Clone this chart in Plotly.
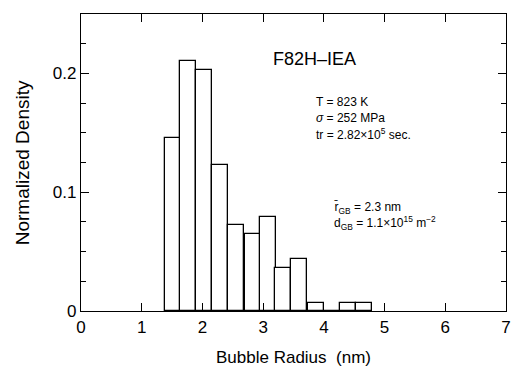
import plotly.graph_objects as go

# Data
bin_left = [1.377, 1.637, 1.902, 2.163, 2.418, 2.694, 2.948, 3.203, 3.463, 3.735, 4.005, 4.265, 4.525]
bin_width = 0.263
density = [0.1455, 0.2104, 0.203, 0.1233, 0.0722, 0.0651, 0.0795, 0.0362, 0.0438, 0.007, 0.0, 0.007, 0.007]
x_ticks = [0, 1, 2, 3, 4, 5, 6, 7]
y_ticks = [0, 0.1, 0.2]
y_ticklabels = ["0", "0.1", "0.2"]

centers = [b + bin_width / 2 for b in bin_left]

FONT = "Liberation Sans, Arial, sans-serif"

fig = go.Figure()
fig.add_trace(go.Bar(
    x=centers, y=density, width=[bin_width] * len(centers),
    marker=dict(color="white", line=dict(color="black", width=1.3)),
    showlegend=False,
))

fig.update_layout(
    width=513, height=374,
    margin=dict(l=81, r=2, t=14, b=63),
    paper_bgcolor="white", plot_bgcolor="white",
    font=dict(family=FONT, color="black", size=17),
    bargap=0,
)
fig.update_xaxes(
    range=[0, 7], tickvals=x_ticks, ticks="inside", ticklen=8, tickwidth=1,
    tickcolor="black", showline=True, linecolor="black", linewidth=1.2,
    mirror="ticks", showgrid=False, zeroline=False, ticklabeloverflow="allow",
    tickfont=dict(size=17, family=FONT),
)
fig.update_yaxes(
    range=[0, 0.25], tickvals=y_ticks, ticktext=y_ticklabels, ticks="inside",
    ticklen=8, tickwidth=1, tickcolor="black", showline=True, linecolor="black",
    linewidth=1.2, mirror="ticks", showgrid=False, zeroline=False,
    tickfont=dict(size=17, family=FONT),
    minor=dict(dtick=0.025, tick0=0, ticks="inside", ticklen=5, tickcolor="black", showgrid=False),
)

anns = [
    dict(text="Bubble Radius  (nm)", x=0.5, y=-0.158, size=17, xanchor="center", angle=0),
    dict(text="Normalized Density", x=-0.137, y=0.5, size=19, xanchor="center", angle=-90),
]
for a in anns:
    fig.add_annotation(text=a["text"], xref="paper", yref="paper", x=a["x"], y=a["y"],
                       xanchor=a["xanchor"], yanchor="middle", showarrow=False,
                       textangle=a["angle"], font=dict(size=a["size"], family=FONT))

labels = [
    ("F82H–IEA", 3.13, 0.2122, 18),
    ("T = 823 K", 3.84, 0.1757, 12),
    ("<i>σ</i> = 252 MPa", 3.84, 0.1627, 12),
    ("tr = 2.82×10<sup>5</sup> sec.", 3.84, 0.149, 12),
    ("r̄<sub>GB</sub> = 2.3 nm", 4.13, 0.0867, 12),
    ("d<sub>GB</sub> = 1.1×10<sup>15</sup> m<sup>−2</sup>", 4.13, 0.0741, 12),
]
for t, x, y, s in labels:
    fig.add_annotation(text=t, x=x, y=y, xref="x", yref="y", xanchor="left",
                       yanchor="middle", showarrow=False, font=dict(size=s, family=FONT))

fig.write_html("out.html")
